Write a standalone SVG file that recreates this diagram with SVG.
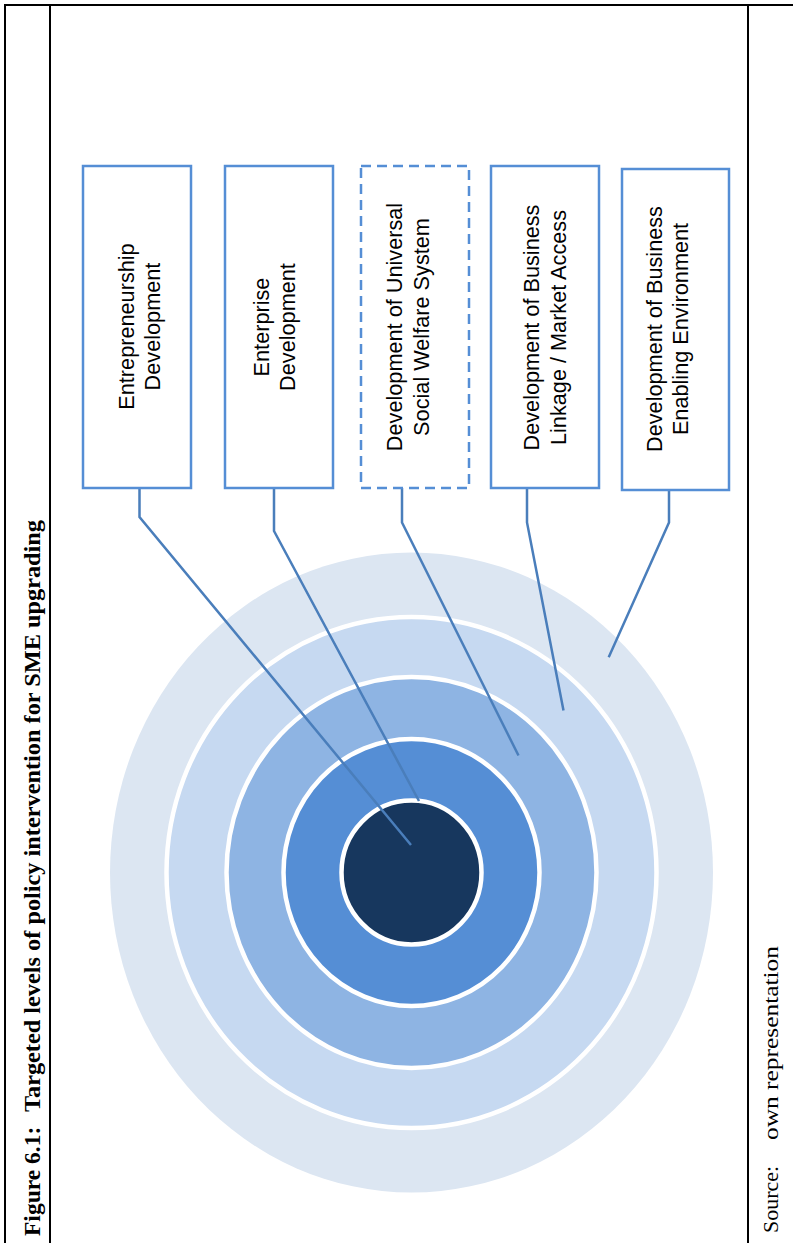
<svg xmlns="http://www.w3.org/2000/svg" width="793" height="1243" viewBox="0 0 793 1243">
<style>
.frame{stroke:#000;stroke-width:2;fill:none}
.box{fill:#fff;stroke:#558ED5;stroke-width:2.5}
.dash{stroke-dasharray:10 6}
.lbl{font-family:"Liberation Sans",Arial,sans-serif;font-size:21.7px;fill:#000;text-anchor:middle}
.ring{stroke:#fff;stroke-width:4.5}
.con{fill:none;stroke:#4A7EBB;stroke-width:2.5;stroke-linejoin:miter}
.title{font-family:"Liberation Serif","Times New Roman",serif;font-weight:bold;font-size:23.5px;fill:#000}
.src{font-family:"Liberation Serif","Times New Roman",serif;font-size:22px;fill:#000}
</style>
<rect width="793" height="1243" fill="#fff"/>
<g id="frame">
<line class="frame" x1="4" y1="5" x2="793" y2="5"/>
<line class="frame" x1="5" y1="4" x2="5" y2="1243"/>
<line class="frame" x1="50" y1="5" x2="50" y2="1243"/>
<line class="frame" x1="748" y1="5" x2="748" y2="1243"/>
</g>
<g id="title">
<text class="title" transform="translate(40,1236) rotate(-90)">Figure 6.1:</text>
<text class="title" transform="translate(40,1112) rotate(-90)" textLength="592" lengthAdjust="spacingAndGlyphs">Targeted levels of policy intervention for SME upgrading</text>
</g>
<g id="source">
<text class="src" transform="translate(778,1233) rotate(-90)">Source:</text>
<text class="src" transform="translate(778,1140) rotate(-90)" textLength="194" lengthAdjust="spacingAndGlyphs">own representation</text>
</g>
<g id="target">
<ellipse cx="411.5" cy="872.5" rx="301.5" ry="320" fill="#DCE6F2"/>
<ellipse class="ring" cx="411.5" cy="872.5" rx="245" ry="255.5" fill="#C6D9F1"/>
<ellipse class="ring" cx="411.5" cy="872.5" rx="185" ry="195.5" fill="#8EB4E3"/>
<ellipse class="ring" cx="411.5" cy="872.5" rx="128" ry="133.5" fill="#558ED5"/>
<ellipse class="ring" cx="411.5" cy="872.5" rx="70" ry="72" fill="#17375E"/>
</g>
<g id="connectors">
<polyline class="con" points="139.5,488.5 139.5,517 411,845"/>
<polyline class="con" points="274,488.5 274,531 419,801"/>
<polyline class="con" points="402,488 402,522.5 518.5,755.5"/>
<polyline class="con" points="527,488.5 527,522.5 563.5,710.5"/>
<polyline class="con" points="669,490.5 669,522.5 608.7,657.3"/>
</g>
<g id="node1">
<rect class="box" x="83" y="166" width="108" height="322"/>
<text class="lbl" transform="translate(137,326.5) rotate(-90)"><tspan x="0" y="-3.5">Entrepreneurship</tspan><tspan x="0" y="22.8">Development</tspan></text>
</g>
<g id="node2">
<rect class="box" x="225" y="166" width="108" height="322"/>
<text class="lbl" transform="translate(279,327) rotate(-90)"><tspan x="0" y="-10.5">Enterprise</tspan><tspan x="0" y="16.2">Development</tspan></text>
</g>
<g id="node3">
<rect class="box dash" x="361" y="166" width="108" height="322"/>
<text class="lbl" transform="translate(415,327) rotate(-90)"><tspan x="0" y="-12.7">Development of Universal</tspan><tspan x="0" y="14">Social Welfare System</tspan></text>
</g>
<g id="node4">
<rect class="box" x="491" y="166" width="108" height="322"/>
<text class="lbl" transform="translate(545,327.5) rotate(-90)"><tspan x="0" y="-6">Development of Business</tspan><tspan x="0" y="21.3">Linkage / Market Access</tspan></text>
</g>
<g id="node5">
<rect class="box" x="622" y="169" width="107" height="321"/>
<text class="lbl" transform="translate(675.5,329) rotate(-90)"><tspan x="0" y="-13.9">Development of Business</tspan><tspan x="0" y="12.8">Enabling Environment</tspan></text>
</g>
</svg>
